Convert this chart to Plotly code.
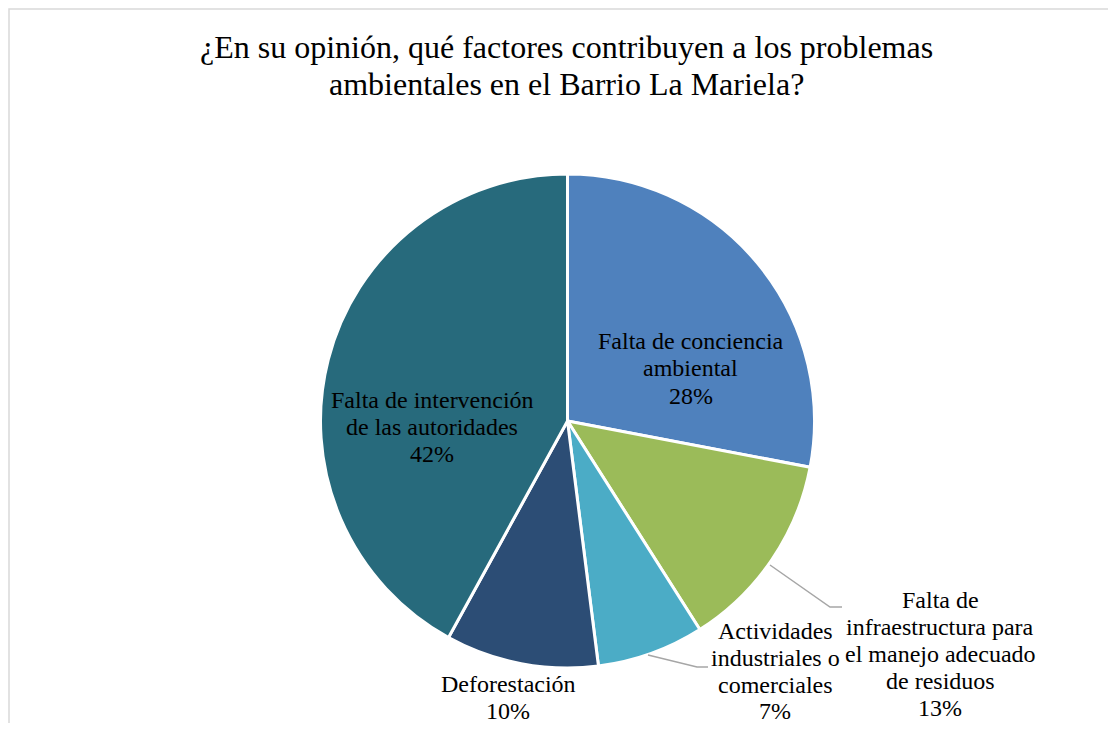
import plotly.graph_objects as go

labels = ["Falta de conciencia ambiental",
          "Falta de infraestructura para el manejo adecuado de residuos",
          "Actividades industriales o comerciales",
          "Deforestación",
          "Falta de intervención de las autoridades"]
values = [28, 13, 7, 10, 42]
colors = ["#4F81BD", "#9BBB59", "#4BACC6", "#2C4D75", "#276A7C"]

# label lines as wrapped in the original chart
label_lines = [["Falta de conciencia", "ambiental"],
               ["Falta de", "infraestructura para", "el manejo adecuado", "de residuos"],
               ["Actividades", "industriales o", "comerciales"],
               ["Deforestación"],
               ["Falta de intervención", "de las autoridades"]]
title_lines = ["¿En su opinión, qué factores contribuyen a los problemas",
               "ambientales en el Barrio La Mariela?"]

# page body has an 8px margin, so the figure is a bit smaller and offset
OFF = 8
W, H = 1116 - 2 * OFF, 731 - 2 * OFF
SERIF = "Liberation Serif"


def px(x, y):
    return (x - OFF) / W, 1 - (y - OFF) / H


def text_line(txt, x, y, size):
    ax, ay = px(x, y)
    fig.add_annotation(x=ax, y=ay, xref='paper', yref='paper', text=txt,
                       showarrow=False, xanchor='center', yanchor='middle',
                       font=dict(family=SERIF, size=size, color="black"))


cx, cy, r = 567.5, 421, 247

fig = go.Figure()
x0, y1 = px(cx - r, cy - r)
x1, y0 = px(cx + r, cy + r)
fig.add_trace(go.Pie(
    labels=labels, values=values,
    sort=False, direction='clockwise', rotation=0,
    marker=dict(colors=colors, line=dict(color='white', width=3)),
    textinfo='none', hoverinfo='label+percent',
    showlegend=False,
    domain=dict(x=[x0, x1], y=[y0, y1])
))

# label block: x center, y of first line, line step (pixels)
label_pos = [(691, 341, 27.3), (940, 600, 27.0), (775, 631, 26.8), (508, 684, 26.5), (432, 400, 27.2)]
for lines, v, (lx, ly, step) in zip(label_lines, values, label_pos):
    for i, ln in enumerate(lines + [f"{v}%"]):
        text_line(ln, lx, ly + i * step, 24)

# leader lines for outside labels
leaders = [[(770, 565), (830, 607), (842, 607)],
           [(648, 655), (697, 667), (708, 667)]]
for pts in leaders:
    path = "M " + " L ".join("{} {}".format(*px(x, y)) for x, y in pts)
    fig.add_shape(type='path', path=path, xref='paper', yref='paper',
                  line=dict(color='#A6A6A6', width=1.5))

# chart area border (left and top edges visible)
bx0, by1 = px(OFF + 1, OFF + 1)
fig.add_shape(type='rect', xref='paper', yref='paper',
              x0=bx0, x1=1.05, y0=-0.05, y1=by1,
              line=dict(color='#D9D9D9', width=1.5))

for i, ln in enumerate(title_lines):
    text_line(ln, 566, 47 + i * 37, 32)

fig.update_layout(width=W, height=H, margin=dict(l=0, r=0, t=0, b=0),
                  paper_bgcolor='white', plot_bgcolor='white')
fig.write_html("out.html")
